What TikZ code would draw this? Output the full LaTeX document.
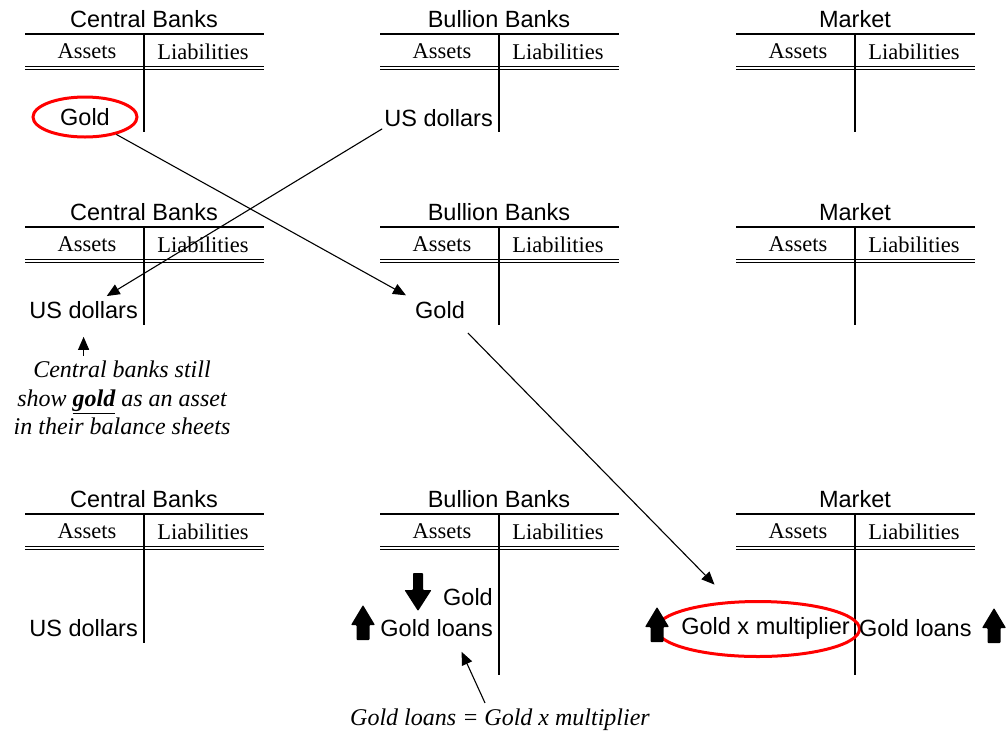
\documentclass[tikz,border=0pt]{standalone}
\usepackage{fontspec}
\setmainfont{Liberation Serif}
\setsansfont{Liberation Sans}
\usetikzlibrary{positioning, shapes.geometric, arrows.meta}
\tikzset{
  acct title/.style={font=\sffamily\fontsize{23.5}{28}\selectfont, inner sep=0pt},
  acct head/.style={font=\fontsize{22.5}{27}\selectfont, inner sep=0pt},
  acct rule/.style={line width=1.3pt},
  entry/.style={font=\sffamily\fontsize{23.5}{28}\selectfont, inner sep=2pt},
  ring/.style={ellipse, draw=red, line width=3pt, inner sep=0pt},
  note/.style={font=\itshape\fontsize{24}{28.5}\selectfont, align=center, inner sep=0pt},
  flow/.style={line width=1.1pt, -{Triangle[length=13pt,width=11pt]}},
  pics/taccount/.style 2 args={
    code = {
        \node [acct title] (-title) at (0,-14.5) {#1};
        \node [acct head] (-assets) at (-57,17.5) {Assets};
        \node [acct head] (-liab) at (59,17.5) {Liabilities};
        \draw [acct rule] (-119,0) -- (120,0);
        \draw [acct rule] (-119,32.5) -- (120,32.5);
        \draw [acct rule] (-119,35.5) -- (120,35.5);
        \draw [acct rule] (0,0) -- (0,#2);
    }
  },
  pics/bigup/.style={
    code = {
        \fill [rounded corners=0.8pt] (0,0) -- (12,20) -- (6.5,20) -- (6.5,35) -- (-6.5,35) -- (-6.5,20) -- (-12,20) -- cycle;
    }
  },
  pics/bigdown/.style={
    code = {
        \fill [rounded corners=0.8pt] (0,0) -- (13.5,-21) -- (5,-21) -- (5,-38) -- (-5,-38) -- (-5,-21) -- (-13.5,-21) -- cycle;
    }
  }
}

\begin{document}
\begin{tikzpicture}[x=1pt, y=-1pt]
            \useasboundingbox (0,0) rectangle (1007,732);
            \def\cb{144}
            \def\bb{499}
            \def\mk{855}

            \foreach \row/\top in {A/34, B/227}
                \foreach \name/\title/\cx in {cb/Central Banks/144, bb/Bullion Banks/499, mk/Market/855}
                    \pic (\name\row) at (\cx,\top) {taccount={\title}{98}};
            \pic (cbC) at (\cb,514) {taccount={Central Banks}{129}};
            \pic (bbC) at (\bb,514) {taccount={Bullion Banks}{161}};
            \pic (mkC) at (\mk,514) {taccount={Market}{161}};

            \node (goldA) [entry, ring, minimum width=104pt, minimum height=40pt] at (85,117) {Gold};
            \node (usdA) [entry, anchor=east] at (\bb-4,118) {US dollars};

            \node (usdB) [entry, anchor=east] at (\cb-4,310) {US dollars};
            \node (goldB) [entry] at (440,310) {Gold};
            \node (noteB) [note] at (122,398) {Central banks still\\show \underline{\textbf{gold}} as an asset\\in their balance sheets};

            \node (usdC) [entry, anchor=east] at (\cb-4,628) {US dollars};
            \node (goldC) [entry, anchor=east] at (\bb-4,597) {Gold};
            \node (loansC) [entry, anchor=east] at (\bb-4,628) {Gold loans};
            \node (multC) [entry, anchor=east] at (\mk-3,628) {Gold x multiplier};
            \node (ringC) [ring, minimum width=203pt, minimum height=55pt] at (758,629) {};
            \node (mloansC) [entry, anchor=west] at (\mk+2,628) {Gold loans};
            \node (eqnC) [note] at (500,720) {Gold loans = Gold x multiplier};

            \pic at (363,605) {bigup};
            \pic at (418,611) {bigdown};
            \pic at (657,607) {bigup};
            \pic at (994,608) {bigup};

            \draw [flow, shorten >=8pt] (goldA) -- (goldB.north west);
            \draw [flow, shorten >=6pt] (usdA.south west) -- ([xshift=18pt]usdB.north);
            \draw [flow, shorten >=16pt] ([yshift=5pt]noteB.north -| usdB.south) -- (usdB.south);
            \draw [flow, shorten <=17pt, shorten >=23pt] ([xshift=16pt]goldB.south) -- (ringC);
            \draw [flow] ([xshift=-15pt,yshift=6pt]eqnC.north) -- ([xshift=25pt,yshift=-13pt]loansC.south);
\end{tikzpicture}
\end{document}
